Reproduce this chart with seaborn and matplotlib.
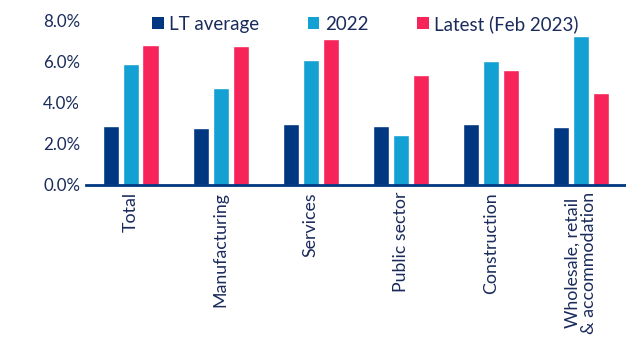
import matplotlib
matplotlib.use("Agg")
import matplotlib.pyplot as plt
import seaborn as sns
import pandas as pd
from matplotlib.ticker import FuncFormatter
from matplotlib.patches import Patch

categories = ["Total", "Manufacturing", "Services", "Public sector", "Construction",
              "Wholesale, retail\n& accommodation"]
series_names = ["LT average", "2022", "Latest (Feb 2023)"]
lt_average = [2.88, 2.78, 2.98, 2.88, 2.98, 2.83]
y2022 = [5.90, 4.73, 6.10, 2.44, 6.05, 7.27]
latest = [6.83, 6.78, 7.12, 5.37, 5.61, 4.49]
colors = ["#003781", "#13A0D3", "#F62459"]
text_color = "#1a2b5c"

rows = []
for s, vals in zip(series_names, [lt_average, y2022, latest]):
    for c, v in zip(categories, vals):
        rows.append({"category": c, "series": s, "value": v})
df = pd.DataFrame(rows)

sns.set_theme(style="white")
plt.rcParams["font.family"] = ["Lato", "DejaVu Sans"]

fig = plt.figure(figsize=(6.26, 3.55), dpi=100)
ax = fig.add_axes([0.137, 0.479, 0.863, 0.462])
sns.barplot(data=df, x="category", y="value", hue="series", order=categories,
            hue_order=series_names, palette=colors, width=0.66, gap=0.18,
            saturation=1, ax=ax, legend=False)

ax.set_xlim(-0.5, 5.5)
ax.set_ylim(0, 8)
ax.set_yticks([0, 2, 4, 6, 8])
ax.yaxis.set_major_formatter(FuncFormatter(lambda v, p: f"{v:.1f}%"))
ax.set_xlabel("")
ax.set_ylabel("")
for sp in ["top", "right", "left"]:
    ax.spines[sp].set_visible(False)
ax.spines["bottom"].set_color("#003781")
ax.spines["bottom"].set_linewidth(2)
ax.tick_params(axis="y", length=0, labelsize=12.2, colors=text_color, pad=4)
ax.tick_params(axis="x", length=0, labelsize=12.8, colors=text_color, pad=5)
plt.setp(ax.get_xticklabels(), rotation=90, va="top", ha="center", linespacing=1.0)

handles = [Patch(facecolor=c, edgecolor="none") for c in colors]
fig.legend(handles, series_names, loc="center", bbox_to_anchor=(0.584, 0.933), ncol=3,
           frameon=False, fontsize=13.5, handlelength=0.6, handleheight=0.6,
           handletextpad=0.3, columnspacing=2.6, labelcolor=text_color)

fig.savefig("out.png", dpi=100)
